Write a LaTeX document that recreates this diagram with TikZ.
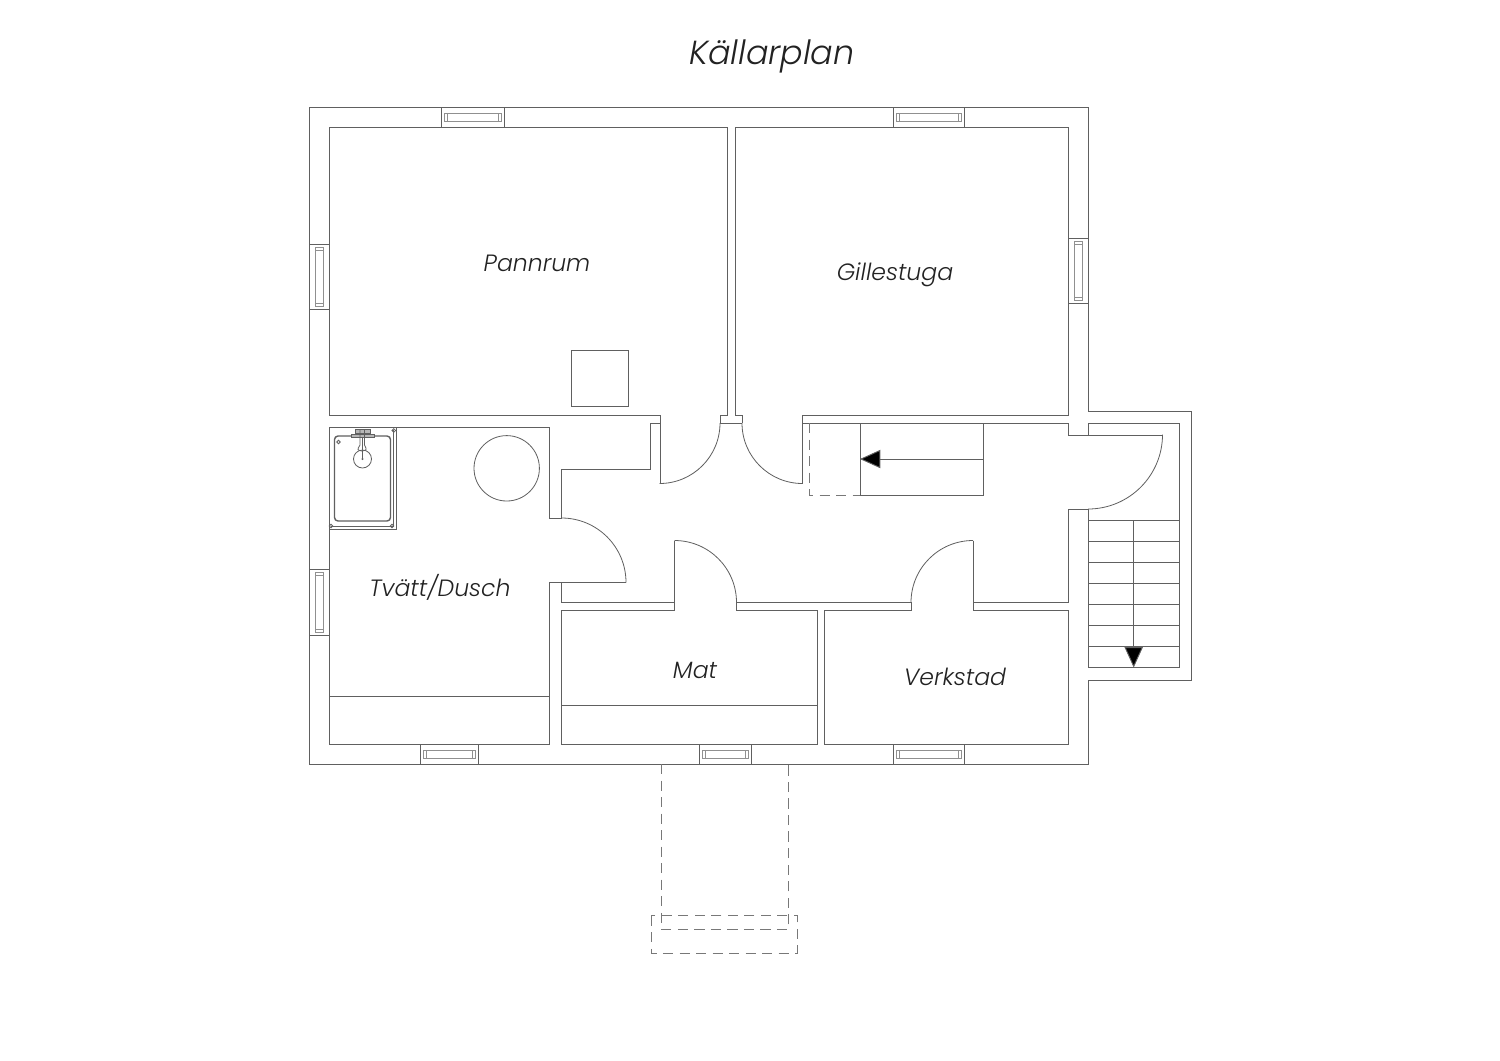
\documentclass[tikz,border=0pt]{standalone}
\usepackage{fontspec}
\setmainfont{Poppins}[UprightFont=* Light,ItalicFont=* Light Italic]
\usetikzlibrary{arrows.meta}
\definecolor{wallink}{HTML}{606060}
\definecolor{textink}{HTML}{222222}
\tikzset{
  wall/.style={draw=wallink,line width=0.27pt},
  thinwall/.style={draw=wallink,line width=0.23pt},
  paneline/.style={draw=wallink!70,line width=0.22pt},
  hidden/.style={draw=wallink!85,line width=0.27pt,dash pattern=on 2.9pt off 1.8pt},
  roomlabel/.style={anchor=base,text=textink,font=\fontsize{6.7pt}{8pt}\selectfont\itshape},
  stairarrow/.style={wall,-{Triangle[length=5.8pt,width=5.2pt,fill=black]}}
}
\begin{document}
\begin{tikzpicture}[x=0.01cm,y=-0.01cm]
\useasboundingbox (0, 0) rectangle (1500, 1060);

% outer wall and porch
\draw [wall] (309, 107) -- (1088, 107) -- (1088, 411) -- (1191, 411) -- (1191, 680) -- (1088, 680) -- (1088, 764) -- (309, 764) -- cycle;

% rooms
\draw [wall] (720, 423) -- (720, 415) -- (727, 415) -- (727, 127) -- (329, 127) -- (329, 415) -- (660, 415) -- (660, 484);
\draw [wall] (742, 423) -- (742, 415) -- (735, 415) -- (735, 127) -- (1068, 127) -- (1068, 415) -- (802, 415) -- (802, 484);
\draw [wall] (720, 423) -- (742, 423);
\draw [wall] (549, 518) -- (549, 427) -- (329, 427) -- (329, 744) -- (549, 744) -- (549, 582.5);
\draw [wall] (329, 696) -- (549, 696);
\draw [wall] (660, 423) -- (650, 423) -- (650, 469) -- (561.5, 469) -- (561.5, 518) -- (549, 518);
\draw [wall] (549, 582.5) -- (625.5, 582.5);
\draw [wall] (561.5, 582.5) -- (561.5, 602.5) -- (674.5, 602.5);
\draw [wall] (674.5, 540.5) -- (674.5, 610.5) -- (561.5, 610.5) -- (561.5, 744) -- (817, 744) -- (817, 610.5) -- (736.5, 610.5) -- (736.5, 602.5) -- (911, 602.5) -- (911, 610.5) -- (824.5, 610.5) -- (824.5, 744) -- (1068.5, 744) -- (1068.5, 610.5) -- (973, 610.5) -- (973, 540.5);
\draw [wall] (561.5, 705) -- (817, 705);
\draw [wall] (973, 602.5) -- (1068.5, 602.5) -- (1068.5, 509) -- (1088, 509);
\draw [wall] (1162.5, 435) -- (1068.5, 435) -- (1068.5, 423) -- (802, 423);
\draw [wall] (1088, 435) -- (1088, 423) -- (1179, 423) -- (1179, 667.5) -- (1088, 667.5) -- (1088, 509);

% door swings
\draw [thinwall] (720, 423) arc [start angle=0, end angle=90, radius=60.5];
\draw [thinwall] (742, 423) arc [start angle=180, end angle=90, radius=60.5];
\draw [thinwall] (561.5, 518) arc [start angle=-90, end angle=0, radius=64.5];
\draw [thinwall] (674.5, 540.5) arc [start angle=-90, end angle=0, radius=62];
\draw [thinwall] (911, 602.5) arc [start angle=180, end angle=270, radius=62];
\draw [thinwall] (1088, 509) arc [start angle=90, end angle=0, radius=74.5];

% windows
\foreach \xa/\xb/\ya in {441/504/107, 893/964/107, 420/478/744, 699/751/744, 893/964/744} {
  \draw [wall] (\xa, \ya) rectangle (\xb, \ya+20);
  \draw [paneline] (\xa+3, \ya+6) rectangle (\xb-3, \ya+14);
  \draw [paneline] (\xa+6, \ya+6) -- (\xa+6, \ya+14) (\xb-6, \ya+6) -- (\xb-6, \ya+14);
}
\foreach \ya/\yb/\xa in {244/309/309, 569/635/309, 238/303/1068} {
  \draw [wall] (\xa, \ya) rectangle (\xa+20, \yb);
  \draw [paneline] (\xa+6, \ya+3) rectangle (\xa+14, \yb-3);
  \draw [paneline] (\xa+6, \ya+6) -- (\xa+14, \ya+6) (\xa+6, \yb-6) -- (\xa+14, \yb-6);
}

% boiler, tank
\draw [thinwall] (571, 350) rectangle (628, 406.5);
\draw [thinwall] (506.7, 468.3) circle [radius=32.7];

% wash basin
\draw [thinwall] (329, 529) -- (396, 529) -- (396, 428);
\draw [thinwall] (331, 526) -- (393.5, 526) -- (393.5, 430);
\draw [wall,rounded corners=1pt,line width=0.4pt] (334.5, 436) rectangle (390.5, 521);
\draw [thinwall] (362.5, 459) circle [radius=9];
\fill [wallink] (362.5, 459) circle [radius=1.2];
\draw [thinwall,fill=wallink!45] (351, 434) rectangle (374, 437);
\draw [thinwall,fill=wallink!45] (355, 429) rectangle (370, 433);
\draw [thinwall] (360, 430) -- (360, 445) .. controls (357, 450) .. (362, 451) .. controls (367, 450) .. (364.5, 445) -- (364.5, 430);
\draw [thinwall] (362.5, 437) -- (362.5, 459);
\foreach \xa/\ya in {338.5/442, 331/526, 392/526, 393.8/430.5} {
  \draw [thinwall] (\xa, \ya) circle [radius=1.8];
}

% inside stair
\coordinate (flighttop) at (983, 459);
\coordinate (flightend) at (860, 459);
\draw [wall] (860, 423) rectangle (983, 495);
\draw [stairarrow] (flighttop) -- (flightend);
\draw [hidden] (809, 423) -- (809, 495) -- (860, 495);

% porch stair
\foreach \ya in {520, 541.5, 562.5, 583.5, 604.5, 625.5, 646.5} {
  \draw [wall] (1088, \ya) -- (1179, \ya);
}
\coordinate (porchtop) at (1133.7, 520);
\coordinate (porchend) at (1133.7, 667.5);
\draw [stairarrow] (porchtop) -- (porchend);

% outside steps
\draw [hidden] (661.5, 764) -- (661.5, 929.5) -- (788.3, 929.5) -- (788.3, 764);
\draw [hidden] (651, 915.7) rectangle (797.3, 953.3);

% labels
\node (title) at (772, 64) [roomlabel,font=\fontsize{9.5pt}{11.4pt}\selectfont\itshape] {Källarplan};
\node (pannrum) at (537, 271) [roomlabel] {Pannrum};
\node (gillestuga) at (895, 280.5) [roomlabel] {Gillestuga};
\node (tvatt) at (440, 596.5) [roomlabel] {Tvätt/Dusch};
\node (mat) at (695, 678.5) [roomlabel] {Mat};
\node (verkstad) at (955, 685.5) [roomlabel] {Verkstad};
\end{tikzpicture}
\end{document}
